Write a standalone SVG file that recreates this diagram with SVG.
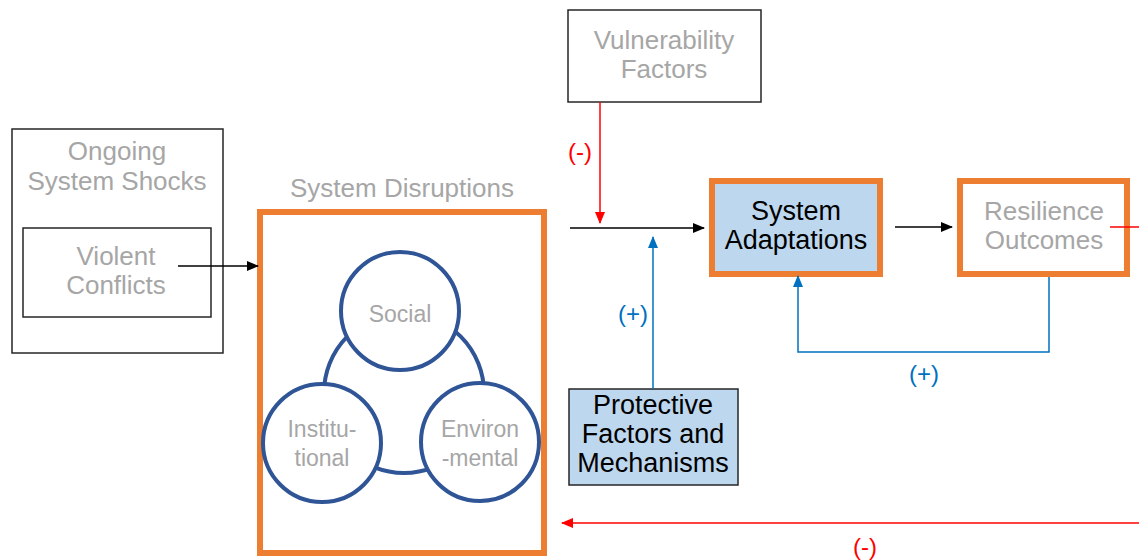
<svg xmlns="http://www.w3.org/2000/svg" width="1139" height="560" viewBox="0 0 1139 560">
<style>
.g{font-family:"Liberation Sans",Arial,sans-serif;font-size:26px;fill:#A6A6A6;text-anchor:middle}
.b{font-family:"Liberation Sans",Arial,sans-serif;font-size:27px;fill:#000;text-anchor:middle}
.c{font-family:"Liberation Sans",Arial,sans-serif;font-size:23px;fill:#A6A6A6;text-anchor:middle}
.lr{font-family:"Liberation Sans",Arial,sans-serif;font-size:24px;fill:#FF0000;text-anchor:middle}
.lb{font-family:"Liberation Sans",Arial,sans-serif;font-size:24px;fill:#0070C0;text-anchor:middle}
.box{fill:#fff;stroke:#262626;stroke-width:1.5}
.obox{stroke:#ED7D31;stroke-width:6}
.circ{fill:#fff;stroke:#2F5597;stroke-width:4}
.k{stroke:#000;stroke-width:1.5;fill:none}
.r{stroke:#FF0000;stroke-width:1.5;fill:none}
.bl{stroke:#0070C0;stroke-width:1.5;fill:none}
</style>
<defs>
<marker id="ak" markerUnits="userSpaceOnUse" markerWidth="12" markerHeight="10" refX="11" refY="5" orient="auto"><path d="M0,0 L12,5 L0,10 z" fill="#000"/></marker>
<marker id="ar" markerUnits="userSpaceOnUse" markerWidth="12" markerHeight="10" refX="11" refY="5" orient="auto"><path d="M0,0 L12,5 L0,10 z" fill="#FF0000"/></marker>
<marker id="ab" markerUnits="userSpaceOnUse" markerWidth="12" markerHeight="10" refX="11" refY="5" orient="auto"><path d="M0,0 L12,5 L0,10 z" fill="#0070C0"/></marker>
</defs>

<g id="ongoing-shocks">
<rect class="box" x="12" y="129" width="211" height="224"/>
<text class="g" x="117" y="160">Ongoing</text>
<text class="g" x="117" y="190">System Shocks</text>
</g>
<g id="violent-conflicts">
<rect class="box" x="23" y="228" width="188" height="89"/>
<text class="g" x="116" y="265">Violent</text>
<text class="g" x="116" y="294">Conflicts</text>
</g>

<g id="system-disruptions">
<text class="g" x="402" y="197">System Disruptions</text>
<rect class="obox" fill="#fff" x="260" y="212" width="284" height="341"/>
<circle cx="404" cy="393" r="80" fill="none" stroke="#2F5597" stroke-width="4"/>
</g>
<g id="social">
<circle class="circ" cx="400" cy="311" r="59"/>
<text class="c" x="400" y="322">Social</text>
</g>
<g id="institutional">
<circle class="circ" cx="322" cy="443" r="59"/>
<text class="c" x="322" y="437">Institu-</text>
<text class="c" x="322" y="466">tional</text>
</g>
<g id="environmental">
<circle class="circ" cx="480" cy="442" r="59"/>
<text class="c" x="480" y="437">Environ</text>
<text class="c" x="480" y="466">-mental</text>
</g>

<g id="vulnerability-factors">
<rect class="box" x="568" y="10" width="193" height="92"/>
<text class="g" x="664" y="49">Vulnerability</text>
<text class="g" x="664" y="78">Factors</text>
</g>

<g id="system-adaptations">
<rect class="obox" fill="#BDD7EE" x="712" y="181" width="168" height="93"/>
<text class="b" x="796" y="220">System</text>
<text class="b" x="796" y="249">Adaptations</text>
</g>

<g id="resilience-outcomes">
<rect class="obox" fill="#fff" x="960" y="181" width="167" height="93"/>
<text class="g" x="1044" y="220">Resilience</text>
<text class="g" x="1044" y="249">Outcomes</text>
</g>

<g id="protective-factors">
<rect x="569" y="389" width="169" height="96" fill="#BDD7EE" stroke="#262626" stroke-width="1.5"/>
<text class="b" x="653" y="414">Protective</text>
<text class="b" x="653" y="443">Factors and</text>
<text class="b" x="653" y="472">Mechanisms</text>
</g>

<g id="connectors">
<line class="k" x1="178" y1="266" x2="258" y2="266" marker-end="url(#ak)"/>
<line class="k" x1="570" y1="228" x2="704" y2="228" marker-end="url(#ak)"/>
<line class="r" x1="600" y1="102" x2="600" y2="223" marker-end="url(#ar)"/>
<line class="bl" x1="653" y1="389" x2="653" y2="237" marker-end="url(#ab)"/>
<line class="k" x1="895" y1="227" x2="952" y2="227" marker-end="url(#ak)"/>
<polyline class="bl" points="1049,277 1049,352 798,352 798,276" marker-end="url(#ab)"/>
<line class="r" x1="1110" y1="227" x2="1139" y2="227"/>
<line class="r" x1="1139" y1="523" x2="562" y2="523" marker-end="url(#ar)"/>
<text class="lr" x="580" y="160">(-)</text>
<text class="lb" x="633" y="322">(+)</text>
<text class="lb" x="924" y="382">(+)</text>
<text class="lr" x="865" y="555">(-)</text>
</g>
</svg>
